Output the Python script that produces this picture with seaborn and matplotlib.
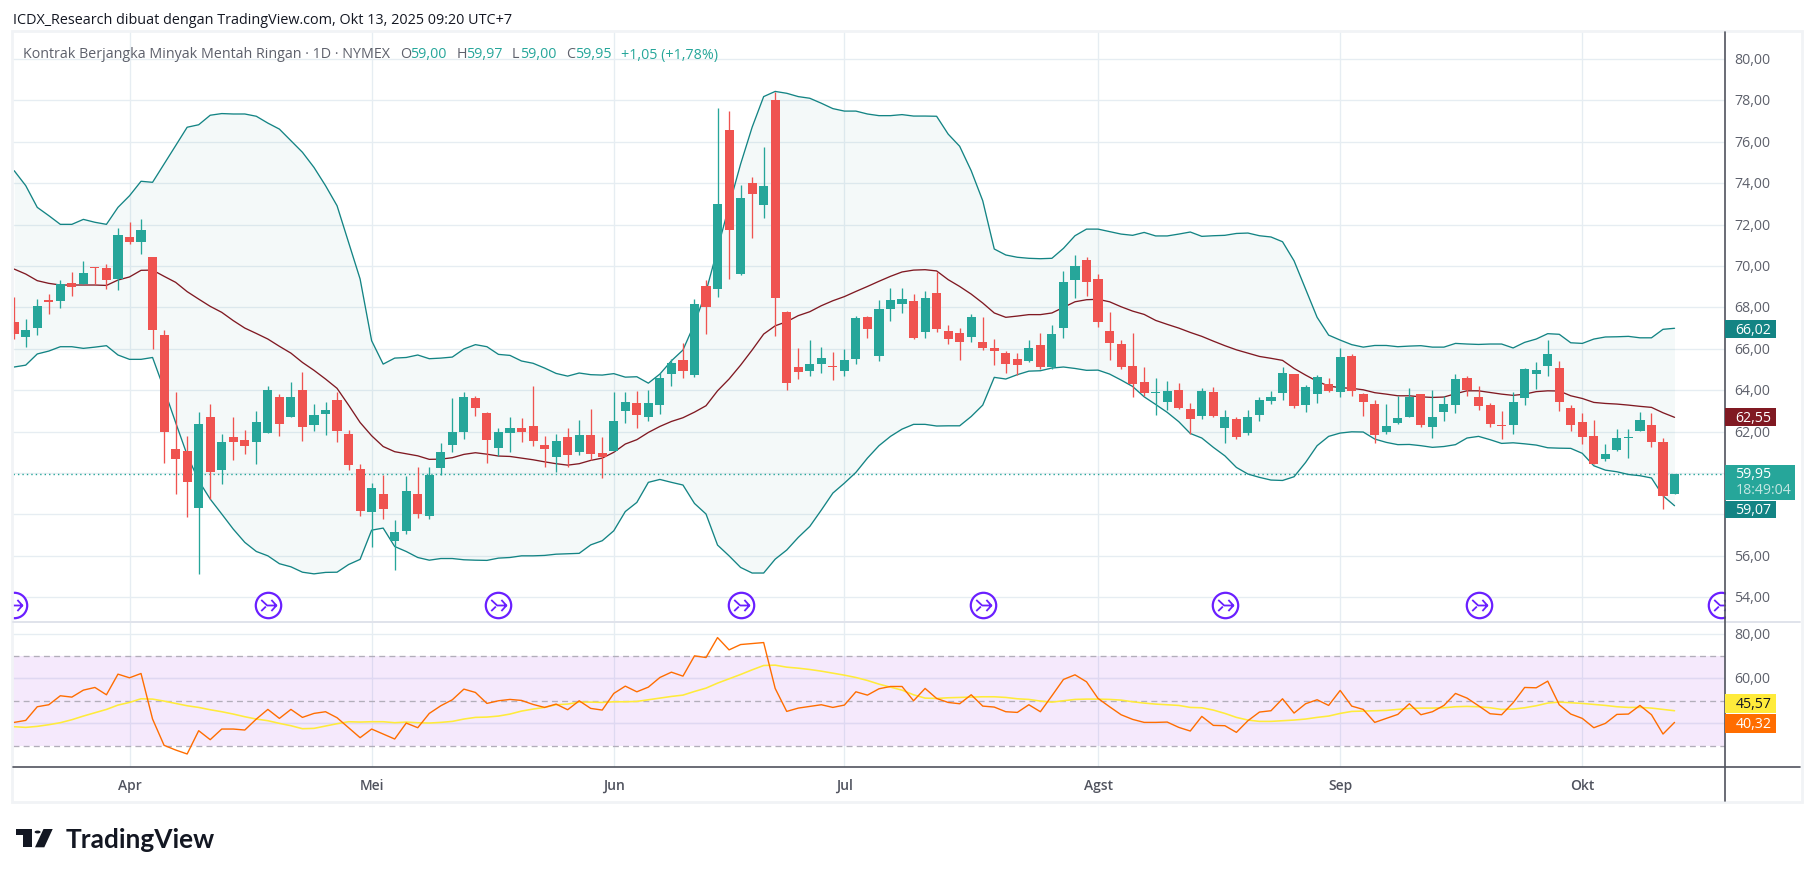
import numpy as np
import pandas as pd
import matplotlib
matplotlib.use("Agg")
import matplotlib.pyplot as plt
from matplotlib.patches import Rectangle, Polygon, Circle
from matplotlib.lines import Line2D
from matplotlib.path import Path
from matplotlib.transforms import ScaledTranslation
import seaborn as sns

opens = [67.29,66.57,67.0,68.35,68.31,69.18,69.11,69.96,69.9,69.37,
71.4,71.16,70.42,66.66,61.16,61.06,58.31,62.7,60.14,61.74,
61.59,61.49,61.93,63.67,62.7,64.01,62.32,62.85,63.52,61.88,
60.19,58.11,58.98,56.71,57.2,58.98,57.92,60.24,61.35,61.98,
63.62,62.9,61.2,61.93,62.17,62.27,61.35,60.77,61.74,61.01,
61.83,60.96,61.06,62.99,63.38,62.7,63.28,64.78,65.46,64.73,
69.03,68.89,76.57,69.61,74.01,72.94,78.02,67.77,65.12,64.92,
65.26,65.16,64.92,65.5,67.53,65.65,67.92,68.16,68.31,66.81,
68.69,66.86,66.76,66.57,66.33,66.04,65.79,65.5,65.41,66.18,
65.12,67.0,69.32,70.29,69.37,66.86,66.23,65.17,64.39,63.86,
63.43,64.01,63.09,62.75,63.91,62.17,62.61,61.93,62.8,63.48,
63.86,64.78,63.28,63.81,64.3,63.91,65.65,63.81,63.33,61.98,
62.41,62.7,63.81,62.22,62.94,63.28,64.59,63.67,63.28,62.32,
62.32,63.62,64.78,65.17,65.07,63.14,62.46,61.78,60.67,61.09,
61.7,62.03,62.32,61.49,59.0]
closes = [66.71,66.9,68.06,68.27,69.13,69.0,69.66,69.92,69.32,71.49,
71.16,71.74,66.9,61.99,60.67,59.58,62.36,60.05,61.49,61.49,
61.3,62.46,64.01,62.36,63.67,62.22,62.8,63.04,62.03,60.38,
58.16,59.27,58.26,57.15,59.13,58.02,59.92,61.01,61.98,63.67,
63.14,61.59,61.98,62.17,61.98,61.54,61.16,61.54,60.87,61.83,
60.91,60.77,62.51,63.43,62.8,63.38,64.59,65.31,64.92,68.16,
68.02,72.99,71.74,73.28,73.48,73.86,68.45,64.34,64.88,65.26,
65.55,65.13,65.46,67.48,66.95,67.92,68.35,68.4,66.52,68.45,
66.95,66.47,66.33,67.53,66.04,65.89,65.26,65.21,66.04,65.12,
66.71,69.22,70.0,69.22,67.29,66.28,65.12,64.3,63.86,63.9,
63.96,63.14,62.61,63.96,62.75,62.7,61.74,62.7,63.52,63.67,
64.83,63.23,64.15,64.63,63.96,65.6,63.96,63.43,61.83,62.27,
62.65,63.67,62.32,62.7,63.33,64.54,64.01,63.23,62.36,62.29,
63.43,65.02,64.97,65.75,63.43,62.32,61.74,60.43,60.91,61.69,
61.74,62.56,61.49,58.89,59.95]
highs = [68.48,67.44,68.4,68.64,69.32,69.69,70.22,69.96,70.08,71.82,
72.11,72.27,70.45,66.9,63.89,61.78,62.93,63.33,61.88,62.7,
62.07,62.99,64.2,63.81,64.38,64.86,63.33,63.43,63.91,62.07,
60.43,59.51,59.9,57.73,59.85,60.29,60.29,61.45,63.62,63.91,
63.72,62.94,62.17,62.7,62.65,64.2,61.78,61.88,62.17,62.56,
63.09,61.74,63.91,63.91,63.96,64.01,64.83,65.5,66.28,68.4,
69.32,77.61,77.49,73.91,74.3,75.75,78.4,67.82,66.04,66.42,
66.09,65.85,65.99,67.58,67.58,68.35,68.93,68.93,68.64,68.79,
69.69,67.15,67.0,67.68,67.53,66.47,65.89,65.79,66.42,66.76,
67.15,69.76,70.53,70.43,69.61,67.77,66.42,66.76,65.12,64.59,
64.44,64.34,63.38,64.1,64.15,63.04,62.7,63.04,63.67,63.96,
65.12,64.78,64.25,64.73,64.59,66.02,65.75,63.86,63.52,63.33,
63.72,64.1,63.81,64.01,63.72,64.78,64.68,64.2,63.38,62.99,
63.91,65.07,65.36,66.42,65.41,63.28,62.9,62.56,61.4,62.12,
62.12,62.94,62.9,61.69,59.97]
lows = [66.47,66.08,66.66,67.68,67.97,68.56,69.11,69.13,68.89,68.84,
71.06,70.58,65.99,60.5,58.98,57.87,55.12,58.74,59.47,60.62,
60.91,60.43,61.93,61.78,62.7,61.54,62.03,61.83,61.49,60.14,
57.92,56.42,57.77,55.31,57.05,57.82,57.77,59.92,61.01,61.64,
62.75,60.48,60.82,61.01,61.49,61.3,60.29,60.05,60.29,60.87,
60.62,59.76,61.06,62.41,62.17,62.51,62.85,64.2,64.59,64.65,
66.71,68.5,69.37,69.56,71.35,72.32,66.62,64.01,64.54,64.68,
64.83,64.49,64.68,65.26,66.52,65.41,67.34,67.73,66.47,66.52,
66.81,66.23,65.46,66.33,65.94,65.21,64.83,64.73,65.36,65.02,
65.02,66.52,68.45,68.55,67.05,65.46,65.02,63.67,63.72,62.8,
63.04,63.09,61.88,62.61,62.7,61.45,61.64,61.83,62.51,63.33,
63.52,63.14,62.94,63.38,63.91,63.67,63.72,62.75,61.45,61.88,
62.36,62.7,62.22,61.69,62.51,62.9,63.72,63.04,62.22,61.64,
61.88,63.28,64.05,64.68,62.99,62.03,61.4,60.43,60.58,61.06,
60.72,62.03,61.25,58.26,59.0]

bb_upper = [74.6,73.88,72.83,72.43,72.01,72.01,72.25,72.11,72.01,72.83,
73.39,74.09,74.04,74.92,75.81,76.7,76.82,77.28,77.36,77.34,
77.34,77.23,76.9,76.61,76.05,75.49,74.76,73.88,72.91,71.14,
69.37,66.39,65.26,65.55,65.58,65.7,65.52,65.55,65.6,65.99,
66.2,66.1,65.73,65.68,65.41,65.3,65.07,64.81,64.68,64.83,
64.75,64.73,64.8,64.63,64.65,64.34,64.78,65.42,65.94,67.21,
68.76,70.82,72.91,74.92,76.7,78.18,78.43,78.34,78.18,78.1,
77.86,77.6,77.48,77.48,77.34,77.26,77.26,77.31,77.24,77.24,
77.23,76.37,75.78,74.6,73.15,70.82,70.53,70.42,70.37,70.35,
70.37,70.85,71.46,71.78,71.78,71.66,71.54,71.48,71.62,71.45,
71.45,71.54,71.64,71.43,71.46,71.48,71.57,71.59,71.46,71.4,
71.17,70.25,68.89,67.52,66.66,66.42,66.2,66.08,66.16,66.16,
66.1,66.13,66.15,66.08,66.08,66.26,66.23,66.21,66.23,66.23,
66.04,66.31,66.47,66.73,66.7,66.29,66.26,66.47,66.57,66.58,
66.6,66.53,66.53,66.94,66.99]
bb_basis = [69.85,69.61,69.29,69.16,69.08,69.08,69.08,69.08,69.06,69.32,
69.47,69.79,69.8,69.5,69.21,68.76,68.4,68.05,67.76,67.36,
67.0,66.74,66.47,66.12,65.79,65.34,64.96,64.54,64.09,63.28,
62.44,61.8,61.28,61.03,60.93,60.83,60.66,60.67,60.74,60.9,
60.98,60.91,60.82,60.8,60.72,60.64,60.54,60.45,60.38,60.45,
60.61,60.72,61.0,61.4,61.61,61.96,62.25,62.49,62.67,62.94,
63.25,63.97,64.54,65.21,65.94,66.71,67.11,67.31,67.6,67.79,
68.08,68.32,68.52,68.77,69.01,69.26,69.5,69.71,69.8,69.82,
69.76,69.34,69.01,68.64,68.21,67.73,67.52,67.58,67.65,67.65,
67.73,68.0,68.27,68.37,68.39,68.27,68.03,67.82,67.66,67.37,
67.18,67.0,66.79,66.6,66.37,66.15,65.95,65.79,65.63,65.54,
65.44,65.05,64.73,64.43,64.2,64.12,64.09,64.02,63.88,63.81,
63.73,63.73,63.68,63.65,63.67,63.83,63.97,63.97,63.89,63.81,
63.75,63.81,63.93,63.97,63.96,63.73,63.6,63.41,63.36,63.33,
63.28,63.22,63.17,62.91,62.69]
bb_lower = [65.12,65.21,65.75,65.89,66.1,66.1,66.02,66.08,66.15,65.7,
65.49,65.49,65.58,64.05,62.44,60.87,59.63,58.74,58.02,57.29,
56.65,56.21,56.0,55.62,55.47,55.21,55.13,55.2,55.21,55.58,
55.83,57.24,57.34,56.45,56.21,55.92,55.79,55.87,55.87,55.81,
55.79,55.78,55.89,55.92,56.0,56.0,56.02,56.08,56.1,56.12,
56.53,56.73,57.21,58.14,58.58,59.55,59.69,59.55,59.42,58.53,
58.02,56.52,56.0,55.44,55.17,55.17,55.84,56.28,56.89,57.42,
58.21,59.03,59.51,60.03,60.72,61.32,61.77,62.12,62.35,62.35,
62.27,62.28,62.28,62.73,63.28,64.62,64.54,64.75,64.92,64.94,
65.07,65.12,65.05,64.96,64.97,64.78,64.49,64.18,63.68,63.31,
62.93,62.48,61.91,61.69,61.24,60.83,60.27,59.95,59.79,59.66,
59.64,59.82,60.51,61.32,61.77,61.93,61.99,61.98,61.64,61.48,
61.37,61.38,61.32,61.24,61.28,61.37,61.69,61.77,61.61,61.43,
61.46,61.41,61.35,61.22,61.2,61.19,60.95,60.35,60.14,60.06,
59.93,59.87,59.76,58.9,58.42]
rsi = [40.44,41.33,47.41,48.3,52.3,51.7,54.81,56.0,52.74,61.93,
60.3,62.22,41.93,30.22,28.15,26.37,36.74,32.74,37.48,37.48,
37.04,41.93,46.22,42.22,46.22,42.67,44.44,45.19,42.52,38.07,
33.63,37.48,35.26,33.04,40.15,38.07,44.44,47.85,50.52,55.26,
53.78,48.89,50.07,50.67,50.22,48.44,47.11,48.59,46.07,50.07,
46.67,45.93,53.33,56.59,54.07,56.15,60.44,62.81,61.04,70.07,
69.33,78.22,72.74,75.11,75.56,76.0,55.56,45.33,46.81,47.56,
48.3,47.11,48.15,54.07,52.59,55.41,56.44,56.44,50.07,55.56,
51.11,49.33,48.74,52.74,47.7,47.26,45.19,44.89,48.3,45.19,
52.3,59.56,61.63,58.52,51.11,47.41,43.85,41.78,40.44,40.44,
40.59,38.22,36.59,43.11,39.11,38.96,36.0,41.19,45.04,45.63,
50.96,44.59,48.74,50.52,48.0,54.67,47.7,46.22,40.44,42.22,
44.0,48.74,43.85,45.19,48.0,53.33,51.26,47.85,44.3,43.85,
49.19,56.0,55.85,58.81,48.3,44.15,42.22,38.07,40.0,44.0,
44.15,48.0,43.85,35.26,40.44]
rsi_ma = [38.52,38.22,38.67,39.41,40.3,41.63,43.26,44.74,46.22,48.15,
49.33,50.96,50.81,49.93,48.89,47.85,47.11,46.07,45.19,44.15,
42.96,41.93,41.19,40.0,38.96,37.63,37.78,38.81,39.85,40.74,
40.59,40.74,40.74,40.3,40.59,40.3,40.15,40.44,40.89,41.93,
42.67,42.81,43.26,44.15,45.48,46.37,47.11,48.3,48.59,49.48,
49.48,49.33,49.63,49.63,49.78,50.52,51.26,52.0,52.59,54.22,
55.7,57.93,59.85,61.78,63.85,65.78,65.93,65.04,64.59,64.0,
63.26,62.37,61.48,60.44,59.11,57.48,56.15,54.81,52.74,51.26,
51.11,51.41,51.56,51.7,51.85,51.85,51.56,50.96,50.67,49.93,
49.48,50.07,50.67,50.81,50.81,50.67,50.37,49.63,49.04,48.59,
48.3,48.0,47.11,46.96,45.93,44.44,42.67,41.48,40.89,40.89,
41.19,41.48,41.93,42.67,43.26,44.44,45.33,45.48,45.63,45.78,
46.22,46.67,46.81,46.81,46.96,47.41,47.56,47.41,46.96,46.22,
46.37,46.96,47.85,49.04,49.48,49.19,48.89,48.44,48.0,47.41,
47.11,47.11,46.81,46.22,45.63]

month_pos = [10, 31, 52, 72, 94, 115, 136]
month_labels = ["Apr", "Mei", "Jun", "Jul", "Agst", "Sep", "Okt"]
event_pos = [0, 22, 42, 63, 84, 105, 127, 148]
price_ticks = [54, 56, 58, 60, 62, 64, 66, 68, 70, 72, 74, 76, 78, 80]
hidden_price_labels = [58, 60]
rsi_grid = [40, 60, 80]
rsi_levels = [30, 50, 70]
last_price = 59.95

W, H = 1814, 878
GREEN, RED = "#26a69a", "#ef5350"
BAND, BASIS = "#138484", "#801922"
GRID, AXC, TXT = "#e6edf2", "#50535e", "#5d606b"
FONT = ["Open Sans", "DejaVu Sans"]

sns.set_theme(style="white")
plt.rcParams["font.family"] = FONT
plt.rcParams["axes.unicode_minus"] = False

fig = plt.figure(figsize=(W / 100, H / 100), dpi=100, facecolor="white")

def box(x0, y0, x1, y1):
    return [x0 / W, 1 - y1 / H, (x1 - x0) / W, (y1 - y0) / H]

def fx(x): return x / W
def fy(y): return 1 - y / H

AX_L, AX_R, TOP, SEP, BOT, OUT_R, OUT_B = 13, 1724.7, 33, 623.3, 768.3, 1800, 802

df = pd.DataFrame(dict(i=np.arange(len(closes)), o=opens, c=closes, h=highs, l=lows,
                       up=bb_upper, mid=bb_basis, lo=bb_lower, rsi=rsi, ma=rsi_ma))

xlim = (-0.104, 148.35)
ax = fig.add_axes(box(AX_L, TOP, AX_R, SEP), facecolor="white")
ax2 = fig.add_axes(box(AX_L, SEP, AX_R, BOT), facecolor="white")
label_shift = ScaledTranslation(0, 1.5 / 100, fig.dpi_scale_trans)

# price pane
ax.set_xlim(*xlim)
ax.set_ylim(52.79, 81.30)
ax.set_xticks(month_pos)
ax.set_yticks(price_ticks)
ax.grid(True, color=GRID, lw=0.95, zorder=0)
ax.set_axisbelow(True)
ax.fill_between(df.i, df.lo, df.up, color=BAND, alpha=0.045, lw=0, zorder=1)
ax.axhline(last_price, color=GREEN, lw=1.0, ls=(0, (1, 2.2)), zorder=1.5)
for col, colr in (("up", BAND), ("lo", BAND), ("mid", BASIS)):
    sns.lineplot(data=df, x="i", y=col, ax=ax, color=colr, lw=0.95, estimator=None,
                 errorbar=None, zorder=2)
up = df.c >= df.o
colors = np.where(up, GREEN, RED)
ax.vlines(df.i, df.l, df.h, colors=colors, lw=0.95, zorder=3)
ax.bar(df.i, (df.c - df.o).abs().clip(lower=0.03), bottom=df[["o", "c"]].min(axis=1),
       width=0.79, color=colors, lw=0, zorder=4)
ev_y = np.full(len(event_pos), 53.62)
ax.scatter(event_pos, ev_y, s=335, facecolors="white", edgecolors="#6a1fff", lw=1.6, zorder=5)
verts = [(-0.55, 0.42), (-0.1, 0.0), (0.6, 0.0), (0.22, 0.42), (0.6, 0.0), (0.22, -0.42),
         (-0.55, -0.42), (-0.2, -0.08)]
codes = [Path.MOVETO, Path.LINETO, Path.LINETO, Path.MOVETO, Path.LINETO, Path.LINETO,
         Path.MOVETO, Path.LINETO]
ax.plot(event_pos, ev_y, ls="none", marker=Path(verts, codes), ms=11.4, mfc="none",
        mec="#6a1fff", mew=1.3, zorder=6)
ax.set_xlabel(""); ax.set_ylabel("")
ax.yaxis.tick_right()
ax.set_yticklabels(["" if t in hidden_price_labels else f"{t},00" for t in price_ticks],
                   fontsize=10.2, color=TXT)
ax.tick_params(axis="y", length=0, pad=6.7)
ax.tick_params(axis="x", length=0, labelbottom=False)
for lab in ax.get_yticklabels():
    lab.set_transform(lab.get_transform() + label_shift)
for s in ax.spines.values():
    s.set_visible(False)

# RSI pane
ax2.set_xlim(*xlim)
ax2.set_ylim(20.44, 85.02)
ax2.set_xticks(month_pos)
ax2.set_yticks(rsi_grid)
ax2.grid(True, color=GRID, lw=0.95, zorder=0)
ax2.set_axisbelow(True)
ax2.axhspan(min(rsi_levels), max(rsi_levels), color="#9b1fe8", alpha=0.095, lw=0, zorder=1)
for lv in rsi_levels:
    ax2.axhline(lv, color="#b2aeba", lw=0.95, ls=(0, (4.5, 3.2)), zorder=1.5)
for g in rsi_grid:
    if g != 80:
        ax2.axhline(g, color="#dfd8f2", lw=0.95, zorder=1.2)
sns.lineplot(data=df, x="i", y="ma", ax=ax2, color="#ffeb3b", lw=1.15, estimator=None,
             errorbar=None, zorder=2)
sns.lineplot(data=df, x="i", y="rsi", ax=ax2, color="#ff6d00", lw=1.0, estimator=None,
             errorbar=None, zorder=3)
ax2.set_xlabel(""); ax2.set_ylabel("")
ax2.yaxis.tick_right()
ax2.set_yticklabels(["" if t == 40 else f"{t},00" for t in rsi_grid], fontsize=10.2, color=TXT)
ax2.set_xticklabels(month_labels, fontsize=10.0, color=AXC, fontweight="semibold")
ax2.tick_params(axis="y", length=0, pad=6.7)
ax2.tick_params(axis="x", length=0, pad=7.8)
for lab in ax2.get_yticklabels():
    lab.set_transform(lab.get_transform() + label_shift)
for s in ax2.spines.values():
    s.set_visible(False)

# frame and axis lines
fig.add_artist(Rectangle((fx(12), fy(OUT_B + 1)), (OUT_R + 2 - 12) / W, (OUT_B + 1 - 32) / H,
                         transform=fig.transFigure, fill=False, ec="#f1f3f6", lw=2.0, zorder=1))
def hline(x0, x1, y, c, lw):
    fig.add_artist(Line2D([fx(x0), fx(x1)], [fy(y), fy(y)], color=c, lw=lw, zorder=2))
hline(AX_L, OUT_R, SEP, "#e0e3eb", 1.4)
hline(AX_L, OUT_R, BOT, AXC, 1.2)
fig.add_artist(Line2D([fx(AX_R), fx(AX_R)], [fy(TOP), fy(OUT_B)], color=AXC, lw=1.2, zorder=2))

# value labels
def tag(y0, y1, x1, fc, text, tc, weight="normal"):
    fig.add_artist(Rectangle((fx(AX_R), fy(y1)), (x1 - AX_R) / W, (y1 - y0) / H,
                             transform=fig.transFigure, fc=fc, ec="none", zorder=4))
    fig.text(fx(1735.5), fy((y0 + y1) / 2 + 0.3), text, color=tc, fontsize=10.2, va="center",
             ha="left", zorder=5, fontweight=weight)

tag(321, 339.3, 1775.6, BAND, "66,02", "white")
tag(409, 427.3, 1775.6, BASIS, "62,55", "white")
fig.add_artist(Rectangle((fx(AX_R), fy(500.7)), (1795 - AX_R) / W, 34.7 / H,
                         transform=fig.transFigure, fc=GREEN, ec="none", zorder=4))
fig.text(fx(1735.5), fy(474.5), "59,95", color="white", fontsize=10.2, va="center", zorder=5)
fig.text(fx(1735.5), fy(491), "18:49:04", color="#c4e6e2", fontsize=10.2, va="center", zorder=5)
tag(501.7, 519.3, 1775.6, BAND, "59,07", "white")
tag(695, 714, 1775.6, "#ffeb3b", "45,57", "#131722")
tag(715, 734, 1775.6, "#ff6d00", "40,32", "white")

# headers
fig.text(fx(13), fy(20), "ICDX_Research dibuat dengan TradingView.com, Okt 13, 2025 09:20 UTC+7",
         color="#131722", fontsize=10.37, va="center", zorder=5)
LY = fy(55)
fig.text(fx(23), LY, "Kontrak Berjangka Minyak Mentah Ringan · 1D · NYMEX", color=TXT,
         fontsize=10.28, va="center", zorder=5)
for x, s, c in [(400, "O", TXT), (410, "59,00", GREEN), (457, "H", TXT), (466, "59,97", GREEN),
                (512, "L", TXT), (520, "59,00", GREEN), (566, "C", TXT), (575, "59,95", GREEN),
                (621, "+1,05 (+1,78%)", GREEN)]:
    fig.text(fx(x), LY, s, color=c, fontsize=10.28, va="center", zorder=5)

# logo
mark = [[(15.7, 830), (32.3, 830), (32.3, 848.3), (23.3, 848.3), (23.3, 836), (15.7, 836)],
        [(43.5, 830), (52.7, 830), (44.3, 848.3), (35, 848.3)]]
for pts in mark:
    fig.add_artist(Polygon([(fx(a), fy(b)) for a, b in pts], closed=True,
                           transform=fig.transFigure, fc="#131722", ec="none", zorder=5))
fig.add_artist(Circle((fx(37.6), fy(833)), 3.0 / W, transform=fig.transFigure,
                      fc="#131722", ec="none", zorder=5))
fig.text(fx(65.5), fy(840), "TradingView", color="#131722", fontsize=18.9, va="center",
         family=["Lato", "DejaVu Sans"], fontweight="bold", zorder=5)

fig.savefig("out.png", dpi=100, facecolor="white")
